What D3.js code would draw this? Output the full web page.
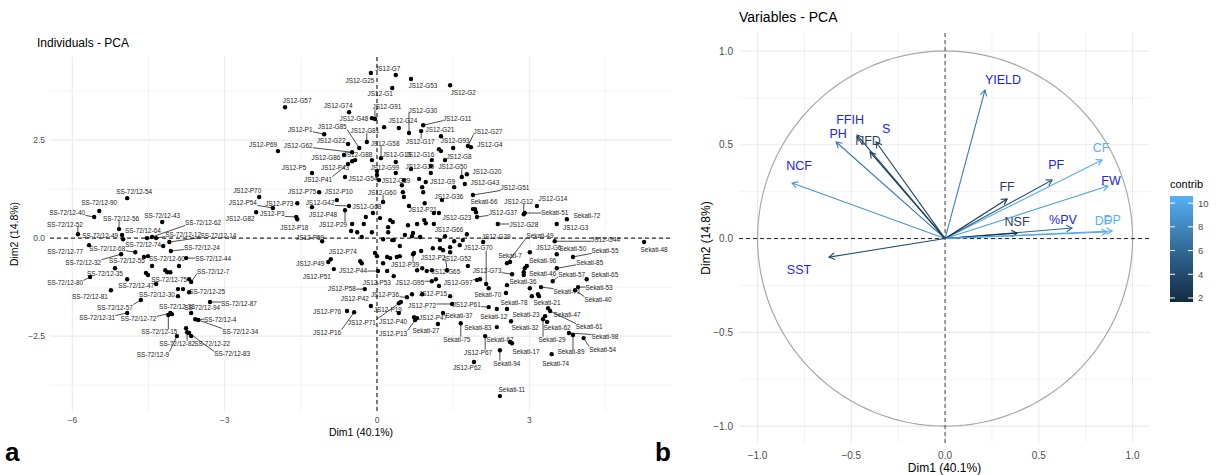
<!DOCTYPE html>
<html><head><meta charset="utf-8">
<script src="https://cdn.jsdelivr.net/npm/d3@7"></script>
<style>body{margin:0;background:#fff}svg{display:block}text{font-family:"Liberation Sans",Arial,Helvetica,sans-serif}</style>
</head><body><svg id="c" width="1219" height="475"></svg>
<script>
// ---------------- DATA: individuals (Dim1, Dim2) ----------------
const jsG = [
 ["JS12-G25",-0.12,4.21],["JS12-G7",0.37,4.16],["JS12-G53",0.67,4.06],["JS12-G2",1.44,3.90],["JS12-G1",0.30,3.83],
 ["JS12-G57",-1.81,3.34],["JS12-G74",-0.55,3.21],["JS12-G91",-0.04,3.04],["JS12-G48",-0.10,3.06],["",0.14,2.83],
 ["JS12-G24",0.43,2.81],["JS12-G30",0.63,2.68],["JS12-G11",0.91,2.88],["JS12-G21",1.26,2.60],["JS12-G17",0.87,2.73],
 ["JS12-G85",-0.35,2.30],["JS12-G81",-0.20,2.45],["JS12-G22",-0.57,2.40],["JS12-G62",-0.49,2.19],["JS12-G58",0.08,2.04],
 ["JS12-G88",-0.10,1.99],["JS12-G86",-0.65,2.12],["JS12-G13",0.37,1.94],["JS12-G16",1.08,1.99],["JS12-G93",1.50,2.30],
 ["",1.22,2.27],["",1.26,2.22],["JS12-G8",1.34,1.99],["JS12-G27",1.79,2.35],["JS12-G4",1.85,2.32],
 ["JS12-G99",0.37,1.66],["JS12-G39",0.67,1.76],["",1.06,1.84],["",1.06,1.66],["JS12-G50",1.67,1.56],
 ["JS12-G89",0.04,1.48],["",0.00,1.71],["",0.00,1.61],["JS12-G9",0.96,1.43],["",0.53,1.48],["",0.83,1.51],["",0.49,1.35],
 ["JS12-G20",1.77,1.63],["JS12-G43",1.73,1.38],["JS12-G51",1.89,1.10],["JS12-G36",1.28,0.97],
 ["",0.51,1.17],["",0.53,1.05],["",0.89,1.30],["",0.91,1.17],["",1.52,1.30],["",0.63,0.82],["",1.12,0.64],["",1.22,0.64],
 ["JS12-G23",1.89,0.74],["",1.95,0.66],["JS12-G60",0.12,0.92],["JS12-G68",-0.08,0.64],["JS12-G66",1.34,0.05],
 ["JS12-G37",1.97,0.54],["JS12-G12",2.89,0.61],["JS12-G14",3.15,0.82],["JS12-G3",3.54,0.36],["JS12-G28",2.38,0.36],
 ["JS12-G29",2.09,-0.10],["JS12-G70",2.15,-1.17],["JS12-G44",3.50,-0.08],["JS12-G6",3.01,-0.36],["JS12-G73",2.66,-0.92],
 ["JS12-G52",1.79,-0.71],["JS12-G65",1.08,-0.82],["JS12-G95",1.08,-1.10],["JS12-G97",2.03,-1.05],
 ["JS12-G42",-0.55,0.82],["JS12-G54",-0.63,1.56],["JS12-G82",-2.38,0.66]
];
const cloud = [
 [0.06,0.51],[0.26,0.46],[0.31,0.41],[0.22,0.28],[0.79,0.36],[0.96,0.38],[0.93,0.46],[0.61,0.33],[1.12,0.36],
 [-0.22,0.54],[-0.26,0.36],[-0.49,0.36],[-0.51,0.18],[-0.39,0.15],[-0.30,0.03],[-0.10,0.15],[0.22,0.15],
 [0.12,-0.03],[0.30,-0.05],[0.33,-0.05],[0.55,0.08],[0.69,0.05],[0.71,0.13],[0.85,0.03],[1.24,-0.05],[1.52,-0.08],
 [1.69,-0.05],[1.77,0.10],[1.63,-0.18],[0.45,-0.20],[-0.04,-0.38],[0.00,-0.46],[-0.33,-0.59],[-0.30,-0.64],
 [0.12,-0.64],[0.20,-0.84],[0.20,-0.48],[0.26,-0.51],[0.39,-0.48],[0.45,-0.46],[0.73,-0.38],[0.87,-0.33],
 [1.10,-0.26],[1.24,-0.26],[1.30,-0.31],[1.44,-0.23],[1.44,-0.36],[0.79,-0.82],[0.89,-0.77],[0.98,-0.84],
 [1.16,-1.05],[1.22,-1.22],[0.69,-1.43],[0.89,-1.43],[0.43,-1.91],[1.97,-1.07],[2.54,-1.40],[3.01,-1.28],
 [2.91,-0.77],[2.89,-0.87],[3.05,-1.48],[3.19,-1.48]
];
const jsP = [
 ["JS12-P1",-1.04,2.65],["JS12-P69",-1.95,2.22],["JS12-P43",-0.49,1.96],["",-0.43,1.99],["JS12-P41",-0.57,1.89],
 ["JS12-P5",-1.28,1.66],["JS12-P70",-2.32,1.05],["JS12-P75",-1.14,1.17],["JS12-P10",-0.79,0.97],["JS12-P48",-1.28,0.79],
 ["JS12-P73",-1.57,0.89],["JS12-P54",-2.05,0.77],["JS12-P3",-1.59,0.54],["JS12-P18",-1.57,0.48],["JS12-P29",-0.63,0.71],
 ["JS12-P59",-1.08,-0.08],["JS12-P74",-0.91,-0.54],["JS12-P49",-0.96,-0.61],["JS12-P51",-0.85,-0.79],["JS12-P44",0.02,-0.84],
 ["JS12-P53",0.33,-0.97],["JS12-P39",0.71,-0.41],["JS12-P2",1.38,-0.82],["JS12-P58",-0.24,-1.30],["JS12-P42",-0.12,-1.73],
 ["JS12-P36",0.59,-1.51],["JS12-P15",1.44,-1.48],["JS12-P72",1.48,-1.68],["JS12-P61",2.20,-1.76],["JS12-P19",0.43,-1.66],
 ["JS12-P76",-0.59,-1.86],["JS12-P16",-0.45,-1.89],["JS12-P71",0.47,-1.63],["JS12-P40",0.73,-2.02],["JS12-P47",0.79,-2.04],
 ["JS12-P13",0.75,-2.09],["JS12-P62",1.91,-3.16],["JS12-P67",2.13,-2.50],["JS12-P21",0.94,0.89]
];
const sekati = [
 ["Sekati-66",1.93,0.74],["Sekati-51",2.91,0.64],["Sekati-72",3.74,0.48],["Sekati-49",2.56,-0.64],["Sekati-7",2.62,-0.61],
 ["Sekati-48",5.26,-0.10],["Sekati-50",3.54,-0.41],["Sekati-55",3.86,-0.48],["Sekati-96",2.95,-0.71],["Sekati-85",3.54,-0.77],
 ["Sekati-46",2.89,-0.94],["Sekati-57",3.46,-1.10],["Sekati-65",4.13,-1.05],["Sekati-36",2.56,-1.20],["Sekati-71",3.23,-1.25],
 ["Sekati-53",3.96,-1.25],["Sekati-40",3.90,-1.33],["Sekati-70",2.20,-1.28],["Sekati-21",3.17,-1.43],["Sekati-47",3.37,-1.79],
 ["Sekati-61",3.41,-1.86],["Sekati-78",2.56,-1.81],["Sekati-12",2.36,-1.81],["Sekati-23",3.31,-1.99],["Sekati-29",3.27,-2.07],
 ["Sekati-62",3.35,-2.14],["Sekati-32",2.64,-2.12],["Sekati-83",2.36,-2.27],["Sekati-67",2.62,-2.65],["Sekati-17",2.66,-2.68],
 ["Sekati-94",2.42,-2.86],["Sekati-98",3.78,-2.42],["Sekati-89",3.86,-2.47],["Sekati-54",4.07,-2.55],["Sekati-74",3.44,-2.96],
 ["Sekati-11",2.42,-4.03],["Sekati-37",1.30,-1.91],["Sekati-27",1.20,-2.19],["Sekati-75",1.65,-2.17]
];
const ss = [
 ["SS-72/12-54",-4.92,1.02],["SS-72/12-90",-5.47,0.69],["SS-72/12-40",-5.57,0.54],["SS-72/12-56",-5.08,0.23],
 ["SS-72/12-43",-4.23,0.41],["SS-72/12-52",-5.89,0.10],["SS-72/12-49",-5.02,0.08],["",-5.00,-0.03],
 ["SS-72/12-64",-4.53,0.00],["SS-72/12-62",-4.43,0.03],["SS-72/12-12",-4.35,0.00],["SS-72/12-14",-4.09,-0.10],
 ["SS-72/12-74",-4.21,-0.20],["SS-72/12-24",-4.06,-0.33],["SS-72/12-77",-5.67,-0.18],["SS-72/12-68",-4.76,-0.36],
 ["SS-72/12-32",-5.04,-0.41],["SS-72/12-55",-4.59,-0.48],["",-4.51,-0.46],["SS-72/12-60",-3.90,-0.71],
 ["SS-72/12-44",-3.76,-0.51],["SS-72/12-35",-5.16,-0.77],["SS-72/12-80",-5.65,-0.99],["",-4.92,-1.05],
 ["",-4.55,-0.89],["",-4.51,-0.94],["",-4.43,-0.71],["",-4.17,-0.82],["",-4.13,-0.87],["",-4.07,-0.87],
 ["SS-72/12-75",-3.70,-1.05],["SS-72/12-7",-3.66,-1.12],["SS-72/12-47",-4.35,-1.17],["SS-72/12-30",-3.92,-1.48],
 ["",-3.92,-1.30],["",-3.82,-1.30],["SS-72/12-25",-3.70,-1.38],["SS-72/12-81",-5.24,-1.33],["SS-72/12-57",-4.65,-1.58],
 ["SS-72/12-87",-3.29,-1.63],["SS-72/12-31",-4.92,-1.91],["SS-72/12-72",-4.07,-1.91],["SS-72/12-38",-4.04,-1.94],
 ["SS-72/12-15",-4.11,-1.96],["SS-72/12-94",-3.66,-1.91],["SS-72/12-4",-3.58,-2.07],["SS-72/12-34",-3.52,-2.09],
 ["",-3.76,-2.30],["SS-72/12-82",-3.74,-2.40],["SS-72/12-9",-3.94,-2.50],["SS-72/12-22",-3.66,-2.50],["SS-72/12-83",-3.70,-2.42]
];
const indTicksX = [-6,-3,0,3], indTicksY = [2.5,0,-2.5];

// ---------------- DATA: variables ----------------
const varNames   = ["YIELD","CF","PF","FW","FF","%PV","NSF","DP","DF","NCF","PH","FFIH","NFD","S","SST"];
const varDim1    = [0.213,0.837,0.571,0.869,0.331,0.677,0.384,0.891,0.864,-0.816,-0.581,-0.469,-0.400,-0.368,-0.619];
const varDim2    = [0.792,0.419,0.312,0.280,0.211,0.056,0.029,0.040,0.035,0.296,0.515,0.552,0.461,0.515,-0.099];
const varContrib = [7.4,10.5,5.0,9.8,2.3,6.0,1.8,10.3,10.0,9.0,7.0,3.6,3.0,3.4,4.0];
const contribTicks = [2,4,6,8,10];
const varTicks = [-1,-0.5,0,0.5,1];

// ---------------- LAYOUT (label nudges in px) ----------------
const nudge = {
 "JS12-G25":[-11,7],"JS12-G7":[-8,-7],"JS12-G53":[12,7],"JS12-G2":[13,7],"JS12-G1":[-12,6],"JS12-G57":[12,-7],
 "JS12-G74":[-11,-7],"JS12-G91":[12,-12],"JS12-G48":[-18,0],"JS12-G24":[4,-7],"JS12-G30":[14,-23],"JS12-G11":[34,-7],
 "JS12-G21":[-1,-7],"JS12-G17":[-1,10],"JS12-G85":[-27,-21],"JS12-G81":[-2,-12],"JS12-G22":[-17,-4],"JS12-G62":[-54,-7],
 "JS12-G58":[4,-15],"JS12-G88":[-14,-6],"JS12-G86":[-18,2],"JS12-G13":[1,-8],"JS12-G16":[-12,-6],"JS12-G93":[2,-7],
 "JS12-G8":[14,-4],"JS12-G27":[20,-14],"JS12-G4":[19,-3],"JS12-G99":[-11,-6],"JS12-G39":[9,-3],"JS12-G50":[-9,-10],
 "JS12-G89":[17,0],"JS12-G9":[17,-1],"JS12-G20":[20,-3],"JS12-G43":[20,-2],"JS12-G51":[42,-7],"JS12-G36":[7,-4],
 "JS12-P21":[-2,6],"JS12-G23":[-16,8],"JS12-G60":[-1,-10],"JS12-G68":[-6,-7],"JS12-G66":[4,-7],"JS12-G37":[26,-4],
 "JS12-G12":[-5,-13],"JS12-G14":[16,-7],"JS12-G3":[19,3],"JS12-G28":[26,0],"JS12-G29":[13,-6],"JS12-G70":[-8,-36],
 "JS12-G44":[51,-2],"JS12-G6":[19,-5],"JS12-G73":[-25,-4],"JS12-G52":[-11,-7],"JS12-G65":[14,1],"JS12-G95":[-22,1],
 "JS12-G97":[-22,3],"JS12-G42":[-29,-3],"JS12-G54":[18,2],"JS12-G82":[-16,6],
 "Sekati-66":[9,-8],"Sekati-51":[30,-1],"Sekati-72":[20,-4],"Sekati-49":[33,-28],"Sekati-7":[0,-7],"Sekati-48":[10,7],
 "Sekati-50":[16,-6],"Sekati-55":[32,-6],"Sekati-96":[16,-5],"Sekati-85":[33,-6],"Sekati-46":[19,-1],"Sekati-57":[19,-7],
 "Sekati-65":[18,-5],"Sekati-36":[16,-4],"Sekati-71":[26,4],"Sekati-53":[21,0],"Sekati-40":[23,9],"Sekati-70":[-1,6],
 "Sekati-21":[9,8],"Sekati-47":[19,6],"Sekati-61":[39,15],"Sekati-78":[7,-7],"Sekati-12":[-3,7],"Sekati-23":[-19,-2],
 "Sekati-29":[9,20],"Sekati-62":[10,5],"Sekati-32":[14,6],"Sekati-83":[-19,0],"Sekati-67":[-10,-3],"Sekati-17":[14,8],
 "Sekati-94":[7,13],"Sekati-98":[36,4],"Sekati-89":[-2,17],"Sekati-54":[19,11],"Sekati-74":[4,9],"Sekati-11":[12,-7],
 "Sekati-37":[16,3],"Sekati-27":[-12,7],"Sekati-75":[-4,16],
 "JS12-P1":[-24,-5],"JS12-P69":[-15,-7],"JS12-P43":[-17,6],"JS12-P41":[-30,15],"JS12-P5":[-18,-6],"JS12-P70":[-12,-6],
 "JS12-P75":[-17,-1],"JS12-P10":[2,-9],"JS12-P48":[11,7],"JS12-P73":[-18,0],"JS12-P54":[-30,-5],"JS12-P3":[-24,-3],
 "JS12-P18":[-3,8],"JS12-P29":[-12,14],"JS12-P59":[-12,-4],"JS12-P74":[12,-8],"JS12-P49":[-18,1],"JS12-P51":[-17,7],
 "JS12-P44":[-25,-1],"JS12-P53":[-17,6],"JS12-P39":[-8,10],"JS12-P2":[-14,-13],"JS12-P58":[-23,-1],"JS12-P42":[-16,-7],
 "JS12-P36":[-22,-3],"JS12-P15":[-17,-3],"JS12-P72":[-30,2],"JS12-P61":[-22,-3],"JS12-P19":[-11,6],"JS12-P76":[-20,0],
 "JS12-P16":[-27,20],"JS12-P71":[-39,20],"JS12-P40":[-21,4],"JS12-P47":[16,-1],"JS12-P13":[-22,13],"JS12-P62":[-7,6],
 "JS12-P67":[-7,16],
 "SS-72/12-54":[7,-7],"SS-72/12-90":[0,-9],"SS-72/12-40":[-27,-4],"SS-72/12-56":[2,-11],"SS-72/12-43":[0,-7],
 "SS-72/12-52":[-13,-10],"SS-72/12-49":[-22,1],"SS-72/12-64":[-4,-8],"SS-72/12-62":[51,-14],"SS-72/12-12":[27,-4],
 "SS-72/12-14":[49,-7],"SS-72/12-74":[-20,-1],"SS-72/12-24":[31,-4],"SS-72/12-77":[-24,6],"SS-72/12-68":[-28,-4],
 "SS-72/12-32":[-38,8],"SS-72/12-55":[-17,4],"SS-72/12-60":[-12,-7],"SS-72/12-44":[27,0],"SS-72/12-35":[-10,5],
 "SS-72/12-80":[-25,6],"SS-72/12-75":[-20,0],"SS-72/12-7":[22,-11],"SS-72/12-47":[-20,2],"SS-72/12-30":[-21,-2],
 "SS-72/12-25":[18,-1],"SS-72/12-81":[-21,6],"SS-72/12-57":[-26,7],"SS-72/12-87":[29,1],"SS-72/12-31":[-30,5],
 "SS-72/12-72":[-32,6],"SS-72/12-38":[5,-8],"SS-72/12-15":[-9,17],"SS-72/12-94":[11,-5],"SS-72/12-4":[25,0],
 "SS-72/12-34":[42,11],"SS-72/12-82":[-10,11],"SS-72/12-9":[-24,18],"SS-72/12-22":[21,7],"SS-72/12-83":[43,21]
};
const varNudge = {"YIELD":[18,-10],"CF":[-1,-12],"PF":[4,-15],"FW":[3,-5],"FF":[0,-12],"%PV":[-9,-8],"NSF":[0,-11],
 "DP":[0,-11],"DF":[-4,-11],"NCF":[7,-17],"PH":[2,-8],"FFIH":[-7,-15],"NFD":[-2,-11],"S":[10,-13],"SST":[-30,13]};
const varLabelStyle = {"FF":"dark","NSF":"dark","NFD":"dark","CF":"light","DP":"light","DF":"light"};

const svg = d3.select("#c");
const gridMajor = "#EBEBEB";
const tickCol = "#4D4D4D";

// ================= LEFT PANEL =================
const L = {x0:50,x1:672,y0:57,y1:411};
const xL = d3.scaleLinear().domain([-6.44,5.81]).range([L.x0,L.x1]);
const yL = d3.scaleLinear().domain([-4.41,4.62]).range([L.y1,L.y0]);
const gl = svg.append("g");
const minorX = [-4.5,-1.5,1.5,4.5], minorY = [3.75,1.25,-1.25,-3.75];
gl.selectAll(".mx").data(minorX).join("line").attr("x1",d=>xL(d)).attr("x2",d=>xL(d)).attr("y1",L.y0).attr("y2",L.y1).attr("stroke",gridMajor).attr("stroke-width",0.6);
gl.selectAll(".my").data(minorY).join("line").attr("y1",d=>yL(d)).attr("y2",d=>yL(d)).attr("x1",L.x0).attr("x2",L.x1).attr("stroke",gridMajor).attr("stroke-width",0.6);
gl.selectAll(".Mx").data(indTicksX).join("line").attr("x1",d=>xL(d)).attr("x2",d=>xL(d)).attr("y1",L.y0).attr("y2",L.y1).attr("stroke",gridMajor).attr("stroke-width",1.1);
gl.selectAll(".My").data(indTicksY).join("line").attr("y1",d=>yL(d)).attr("y2",d=>yL(d)).attr("x1",L.x0).attr("x2",L.x1).attr("stroke",gridMajor).attr("stroke-width",1.1);
gl.append("line").attr("x1",L.x0).attr("x2",L.x1).attr("y1",yL(0)).attr("y2",yL(0)).attr("stroke","#000").attr("stroke-width",1).attr("stroke-dasharray","4,3");
gl.append("line").attr("x1",xL(0)).attr("x2",xL(0)).attr("y1",L.y0).attr("y2",L.y1).attr("stroke","#000").attr("stroke-width",1).attr("stroke-dasharray","4,3");
gl.selectAll(".tx").data(indTicksX).join("text").attr("x",d=>xL(d)).attr("y",L.y1+12).attr("text-anchor","middle").attr("font-size",8.5).attr("fill",tickCol).text(d=>d3.format("d")(d));
gl.selectAll(".ty").data(indTicksY).join("text").attr("x",L.x0-5).attr("y",d=>yL(d)+3).attr("text-anchor","end").attr("font-size",8.5).attr("fill",tickCol).text(d=>d3.format(".1f")(d));
gl.append("text").attr("x",(L.x0+L.x1)/2).attr("y",436).attr("text-anchor","middle").attr("font-size",10.5).text("Dim1 (40.1%)");
gl.append("text").attr("transform",`translate(18,${(L.y0+L.y1)/2}) rotate(-90)`).attr("text-anchor","middle").attr("font-size",10.5).text("Dim2 (14.8%)");
gl.append("text").attr("x",37).attr("y",47).attr("font-size",12).text("Individuals - PCA");

const allInd = [...jsG.map(d=>({n:d[0],x:d[1],y:d[2]})), ...cloud.map(d=>({n:"",x:d[0],y:d[1]})),
  ...jsP.map(d=>({n:d[0],x:d[1],y:d[2]})), ...sekati.map(d=>({n:d[0],x:d[1],y:d[2]})), ...ss.map(d=>({n:d[0],x:d[1],y:d[2]}))];
gl.selectAll("circle.ind").data(allInd).join("circle").attr("cx",d=>xL(d.x)).attr("cy",d=>yL(d.y)).attr("r",2.2).attr("fill","#000");
const segG = gl.append("g"), txtG = gl.append("g");
allInd.filter(d=>d.n).forEach(d=>{
  const px = xL(d.x), py = yL(d.y);
  const o = nudge[d.n] || [0,-7];
  const t = txtG.append("text").attr("x",px+o[0]).attr("y",py+o[1]).attr("text-anchor","middle").attr("dominant-baseline","central").attr("font-size",6.4).attr("fill","#222").text(d.n);
  const b = t.node().getBBox();
  const cx = Math.max(b.x, Math.min(px, b.x+b.width)), cy = Math.max(b.y+1, Math.min(py, b.y+b.height-1));
  const dist = Math.hypot(cx-px, cy-py);
  if (dist > 7) {
    segG.append("line").attr("x1",px).attr("y1",py).attr("x2",cx).attr("y2",cy).attr("stroke","#000").attr("stroke-width",0.7);
  }
});
svg.append("text").attr("x",5).attr("y",461).attr("font-size",26).attr("font-weight","bold").text("a");
svg.append("text").attr("x",655).attr("y",461).attr("font-size",26).attr("font-weight","bold").text("b");

// ================= RIGHT PANEL =================
const R = {x0:739,x1:1150,y0:33,y1:443};
const xR = d3.scaleLinear().domain([-1.099,1.093]).range([R.x0,R.x1]);
const yR = d3.scaleLinear().domain([-1.09,1.096]).range([R.y1,R.y0]);
const gr = svg.append("g");
const minorR = [-0.75,-0.25,0.25,0.75];
gr.selectAll(".mx").data(minorR).join("line").attr("x1",d=>xR(d)).attr("x2",d=>xR(d)).attr("y1",R.y0).attr("y2",R.y1).attr("stroke",gridMajor).attr("stroke-width",0.6);
gr.selectAll(".my").data(minorR).join("line").attr("y1",d=>yR(d)).attr("y2",d=>yR(d)).attr("x1",R.x0).attr("x2",R.x1).attr("stroke",gridMajor).attr("stroke-width",0.6);
gr.selectAll(".Mx").data(varTicks).join("line").attr("x1",d=>xR(d)).attr("x2",d=>xR(d)).attr("y1",R.y0).attr("y2",R.y1).attr("stroke",gridMajor).attr("stroke-width",1.1);
gr.selectAll(".My").data(varTicks).join("line").attr("y1",d=>yR(d)).attr("y2",d=>yR(d)).attr("x1",R.x0).attr("x2",R.x1).attr("stroke",gridMajor).attr("stroke-width",1.1);
const circ = d3.range(0,361,2).map(a=>[Math.cos(a*Math.PI/180),Math.sin(a*Math.PI/180)]);
gr.append("path").attr("d",d3.line().x(d=>xR(d[0])).y(d=>yR(d[1]))(circ)).attr("fill","none").attr("stroke","#A8A8A8").attr("stroke-width",1.2);
gr.append("line").attr("x1",R.x0).attr("x2",R.x1).attr("y1",yR(0)).attr("y2",yR(0)).attr("stroke","#222").attr("stroke-width",1).attr("stroke-dasharray","4,3");
gr.append("line").attr("x1",xR(0)).attr("x2",xR(0)).attr("y1",R.y0).attr("y2",R.y1).attr("stroke","#444").attr("stroke-width",1).attr("stroke-dasharray","4,3");
gr.selectAll(".tx").data(varTicks).join("text").attr("x",d=>xR(d)).attr("y",R.y1+16).attr("text-anchor","middle").attr("font-size",10).attr("fill",tickCol).text(d=>d3.format(".1f")(d));
gr.selectAll(".ty").data(varTicks).join("text").attr("x",R.x0-6).attr("y",d=>yR(d)+3.5).attr("text-anchor","end").attr("font-size",10).attr("fill",tickCol).text(d=>d3.format(".1f")(d));
gr.append("text").attr("x",(R.x0+R.x1)/2).attr("y",472).attr("text-anchor","middle").attr("font-size",12).text("Dim1 (40.1%)");
gr.append("text").attr("transform",`translate(710,${(R.y0+R.y1)/2}) rotate(-90)`).attr("text-anchor","middle").attr("font-size",12).text("Dim2 (14.8%)");
gr.append("text").attr("x",739).attr("y",22).attr("font-size",14).text("Variables - PCA");

const cExt = [1.66,10.6];
const col = d3.scaleLinear().domain(cExt).range(["#132B43","#56B1F7"]).interpolate(d3.interpolateLab);
const vars = varNames.map((n,i)=>({n,x:varDim1[i],y:varDim2[i],c:varContrib[i]}));
const ox = xR(0), oy = yR(0);
vars.forEach(v=>{
  const tx = xR(v.x), ty = yR(v.y), c = col(v.c);
  gr.append("line").attr("x1",ox).attr("y1",oy).attr("x2",tx).attr("y2",ty).attr("stroke",c).attr("stroke-width",1.1);
  const ang = Math.atan2(ty-oy, tx-ox), len = 6.5, sp = Math.PI/6;
  const p = d3.path();
  p.moveTo(tx - len*Math.cos(ang-sp), ty - len*Math.sin(ang-sp)); p.lineTo(tx,ty);
  p.lineTo(tx - len*Math.cos(ang+sp), ty - len*Math.sin(ang+sp));
  gr.append("path").attr("d",p.toString()).attr("fill","none").attr("stroke",c).attr("stroke-width",1.1);
});
vars.forEach(v=>{
  const o = varNudge[v.n] || [0,-10];
  const st = varLabelStyle[v.n];
  const fill = st==="dark" ? "#2B3F5C" : st==="light" ? "#56B1F7" : "#2222EE";
  gr.append("text").attr("x",xR(v.x)+o[0]).attr("y",yR(v.y)+o[1]).attr("text-anchor","middle").attr("dominant-baseline","central").attr("font-size",12.5).attr("fill",fill).text(v.n);
});

// legend
const defs = svg.append("defs");
const grad = defs.append("linearGradient").attr("id","cg").attr("x1",0).attr("x2",0).attr("y1",1).attr("y2",0);
d3.range(0,1.0001,0.1).forEach(t=>grad.append("stop").attr("offset",t).attr("stop-color",col(cExt[0]+t*(cExt[1]-cExt[0]))));
const yC = d3.scaleLinear().domain(cExt).range([302,196]);
const lg = svg.append("g");
lg.append("text").attr("x",1170).attr("y",188).attr("font-size",11).text("contrib");
lg.append("rect").attr("x",1170).attr("y",196).attr("width",23).attr("height",106).attr("fill","url(#cg)");
contribTicks.forEach(t=>{
  lg.append("line").attr("x1",1170).attr("x2",1175).attr("y1",yC(t)).attr("y2",yC(t)).attr("stroke","#fff").attr("stroke-width",1);
  lg.append("line").attr("x1",1188).attr("x2",1193).attr("y1",yC(t)).attr("y2",yC(t)).attr("stroke","#fff").attr("stroke-width",1);
  lg.append("text").attr("x",1198).attr("y",yC(t)+3.5).attr("font-size",9.5).attr("fill",tickCol).text(t);
});
</script></body></html>
